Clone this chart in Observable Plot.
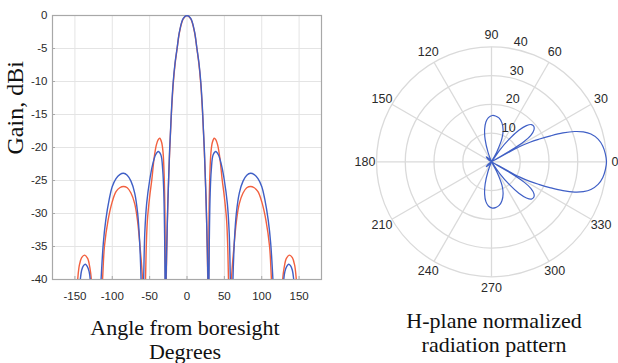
<!DOCTYPE html>
<html>
<head>
<meta charset="utf-8">
<script src="https://cdn.jsdelivr.net/npm/d3@7"></script>
<script src="https://cdn.jsdelivr.net/npm/@observablehq/plot@0.6"></script>
<style>
  html, body { margin: 0; padding: 0; background: #fff; }
  #page { position: relative; width: 618px; height: 363px; overflow: hidden; background: #fff; }
  #left { position: absolute; left: 0; top: 0; }
  #right { position: absolute; left: 340px; top: 0; }
  .cap { position: absolute; font-family: "Liberation Serif", "Times New Roman", serif; font-size: 22px; line-height: 24px; color: #111; text-align: center; white-space: nowrap; }
</style>
</head>
<body>
<div id="page">
  <div id="left"></div>
  <div id="right"></div>
  <div class="cap" id="capL" style="left:0px; width:370px; top:316px;"></div>
  <div class="cap" id="capR" style="left:394px; width:200px; top:309px;"></div>
</div>
<script>
// ---------- data ----------
const xTicks = [-150, -100, -50, 0, 50, 100, 150];
const yTicks = [-40, -35, -30, -25, -20, -15, -10, -5, 0];

// left chart: gain (dBi) vs angle from boresight (deg)
const blueAngle = [-180,-160,-148,-142.8,-141,-138.5,-136,-133.5,-131,-129.5,-127,-121,-115,-112,-108.7,-104,-100,-95,-90,-85,-80,-75,-70,-66,-63.5,-61.5,-60,-58,-56.5,-54,-50,-46,-42,-38.5,-35,-32.5,-31,-30,-29.4,-28.8,-28,-27,-26,-24.5,-23.3,-22,-20.5,-18.4,-16,-13.3,-10,-5,0,
  5,10,13.3,16,18.4,20.5,22,23.3,24.5,26,27,28,28.8,29.4,30,31,32.5,35,38.5,42,46,50,54,56.5,58,60,61.5,63.5,66,70,75,80,85,90,95,100,104,108.7,112,115,121,127,129.5,131,133.5,136,138.5,141,142.8,148,160,180];
const blueGain = [-62,-55,-48,-40,-38.6,-37.9,-37.7,-38,-38.8,-40,-47,-54,-40,-34.5,-31,-27.8,-25.9,-24.7,-24.1,-23.9,-24.2,-25.1,-26.9,-30,-34,-40,-50,-40,-33,-28.5,-25,-22.6,-21.1,-20.6,-21.1,-23.4,-27,-33,-40,-52,-40,-34.5,-30,-24.5,-20.5,-17.4,-13.7,-10,-7.2,-5,-2.4,-0.45,0,
  -0.45,-2.4,-5,-7.2,-10,-13.7,-17.4,-20.5,-24.5,-30,-34.5,-40,-52,-40,-33,-27,-23.4,-21.1,-20.6,-21.1,-22.6,-25,-28.5,-33,-40,-50,-40,-34,-30,-26.9,-25.1,-24.2,-23.9,-24.1,-24.7,-25.9,-27.8,-31,-34.5,-40,-54,-47,-40,-38.8,-38,-37.7,-37.9,-38.6,-40,-48,-55,-62];

const redAngle = [-180,-160,-150,-146.3,-144,-141,-137,-133,-130,-128,-125,-119,-113,-110.5,-105.6,-100,-95,-90,-85,-80,-75,-70,-66.3,-62.5,-59.5,-57.5,-55.5,-54.5,-53,-50,-47,-44,-41,-38.5,-36.5,-34,-32,-30.5,-29.5,-29,-28.5,-27.8,-26.8,-25.6,-24.2,-22.9,-21.6,-20.2,-18.3,-16,-13.2,-10,-5,0,
  5,10,13.2,16,18.3,20.2,21.6,22.9,24.2,25.6,26.8,27.8,28.5,29,29.5,30.5,32,34,36.5,38.5,41,44,47,50,53,54.5,55.5,57.5,59.5,62.5,66.3,70,75,80,85,90,95,100,105.6,110.5,113,119,125,128,130,133,137,141,144,146.3,150,160,180];
const redGain = [-60,-52,-46,-40,-37.8,-36.7,-36.3,-36.8,-38.2,-40,-47,-53,-40,-35,-31,-28.2,-26.7,-26.1,-25.9,-26.1,-26.9,-28.5,-31,-35.5,-40,-50,-40,-35,-31,-27.5,-24.8,-21.6,-19.6,-18.8,-18.6,-19.2,-20.8,-24.5,-30,-40,-52,-40,-34,-28,-23.5,-19.8,-16.6,-13.5,-10.2,-7.4,-5,-2.5,-0.5,0,
  -0.5,-2.5,-5,-7.4,-10.2,-13.5,-16.6,-19.8,-23.5,-28,-34,-40,-52,-40,-30,-24.5,-20.8,-19.2,-18.6,-18.8,-19.6,-21.6,-24.8,-27.5,-31,-35,-40,-50,-40,-35.5,-31,-28.5,-26.9,-26.1,-25.9,-26.1,-26.7,-28.2,-31,-35,-40,-53,-47,-40,-38.2,-36.8,-36.3,-36.7,-37.8,-40,-46,-52,-60];

// right chart: normalized H-plane pattern (radius 0..40) vs angle (deg)
const polarAngle = [-180,-146,-143,-137,-131,-128,-120,-114,-110,-106,-102,-98,-94,-89,-85,-80,-75,-70,-66,-62,-58,-55,-52,-49,-46,-43,-40,-37,-34,-32,-30.5,-29.3,-28.4,-27,-25.5,-23.7,-22,-20,-18,-15.6,-12,-8,-4,0,
  4,8,12,15.6,18,20,22,23.7,25.5,27,28.4,29.3,30.5,32,34,37,40,43,46,49,52,55,58,62,66,70,75,80,85,89,94,98,102,106,110,114,120,128,131,137,143,146,180];
const polarR = [0,0,1.5,2.5,1.5,0,0,0,3.5,8,11.5,14,15.4,16.1,16,15.4,14,11.8,9,4,0,5,10,14.5,17.5,19,19.2,18.5,16.5,13.5,8,0,11,15,18.2,22.5,26.8,30.8,33.6,35.9,37.9,39.1,39.7,40,
  39.7,39.1,37.9,35.9,33.6,30.8,26.8,22.5,18.2,15,11,0,8,13.5,16.5,18.5,19.2,19,17.5,14.5,10,5,0,4,9,11.8,14,15.4,16,16.1,15.4,14,11.5,8,3.5,0,0,0,1.5,2.5,1.5,0,0];

const polarRings = [10, 20, 30, 40];
const polarSpokes = [0, 30, 60, 90, 120, 150];
const polarAngleLabels = [0, 30, 60, 90, 120, 150, 180, 210, 240, 270, 300, 330];

const yLabel = "Gain, dBi";
const captionLeft = ["Angle from boresight", "Degrees"];
const captionRight = ["H-plane normalized", "radiation pattern"];

// ---------- colours ----------
const BLUE = "#3f5fc6";
const RED = "#f2603f";
const GRID = "#e4e4e4";
const FRAME = "#a8a8a8";
const TXT = "#2a2a2a";

// ---------- left chart ----------
const blue = blueAngle.map((a, i) => ({angle: a, gain: blueGain[i]}));
const red = redAngle.map((a, i) => ({angle: a, gain: redGain[i]}));

const left = Plot.plot({
  width: 330, height: 300,
  marginLeft: 52, marginRight: 9, marginTop: 15, marginBottom: 21,
  style: {fontFamily: "'Liberation Sans', Arial, sans-serif", fontSize: "11.5px", color: TXT, background: "transparent", overflow: "visible"},
  x: {domain: [-180, 180], ticks: xTicks, tickFormat: d => String(d), tickSize: 0, tickPadding: 12, label: null},
  y: {domain: [-40, 0], ticks: yTicks, tickFormat: d => String(d), tickSize: 0, tickPadding: 5, label: null},
  marks: [
    Plot.ruleX(xTicks, {stroke: GRID, strokeWidth: 1}),
    Plot.ruleY(yTicks, {stroke: GRID, strokeWidth: 1}),
    Plot.tickX(xTicks, {x: d => d, insetTop: 261, stroke: FRAME}),
    Plot.tickY(yTicks, {y: d => d, insetRight: 266, stroke: FRAME}),
    Plot.frame({stroke: FRAME, strokeWidth: 1.2}),
    Plot.line(red, {x: "angle", y: "gain", stroke: RED, strokeWidth: 1.4, curve: "catmull-rom", clip: true}),
    Plot.line(blue, {x: "angle", y: "gain", stroke: BLUE, strokeWidth: 1.4, curve: "catmull-rom", clip: true}),
    Plot.text([yLabel], {text: d => d, frameAnchor: "left", rotate: -90, dx: -37, dy: 7, fontSize: 24, fontFamily: "'Liberation Serif', 'Times New Roman', serif", fill: "#111"})
  ]
});
document.getElementById("left").appendChild(left);

// ---------- right (polar) chart ----------
const rad = d => d * Math.PI / 180;
const rMax = polarRings[polarRings.length - 1];
const polar = polarAngle.map((a, i) => ({x: polarR[i] * Math.cos(rad(a)), y: polarR[i] * Math.sin(rad(a))}));

const right = Plot.plot({
  width: 278, height: 300,
  marginLeft: 36, marginRight: 12, marginTop: 46.3, marginBottom: 23.7,
  style: {fontFamily: "'Liberation Sans', Arial, sans-serif", fontSize: "12px", color: TXT, background: "transparent"},
  x: {domain: [-rMax, rMax], axis: null},
  y: {domain: [-rMax, rMax], axis: null},
  r: {type: "linear", domain: [0, rMax], range: [0, 115]},
  marks: [
    Plot.link(polarSpokes, {
      x1: a => rMax * Math.cos(rad(a)), y1: a => rMax * Math.sin(rad(a)),
      x2: a => -rMax * Math.cos(rad(a)), y2: a => -rMax * Math.sin(rad(a)),
      stroke: "#dadada", strokeWidth: 1.3
    }),
    Plot.dot(polarRings, {x: () => 0, y: () => 0, r: d => d, stroke: "#dadada", strokeWidth: 1.3, fill: "none"}),
    Plot.line(polar, {x: "x", y: "y", stroke: BLUE, strokeWidth: 1.2, curve: "catmull-rom"}),
    Plot.text(polarAngleLabels.filter(a => a !== 0), {
      x: a => 1.1 * rMax * Math.cos(rad(a)), y: a => 1.1 * rMax * Math.sin(rad(a)),
      text: a => String(a), fontSize: 12.5, fill: TXT
    }),
    Plot.text(polarAngleLabels.filter(a => a === 0), {
      x: a => 1.1 * rMax * Math.cos(rad(a)), y: a => 1.1 * rMax * Math.sin(rad(a)),
      text: a => String(a), fontSize: 12.5, fill: TXT, dx: -3
    }),
    Plot.text(polarRings, {
      x: v => (v + 0.5) * Math.cos(rad(82)), y: v => (v + 0.5) * Math.sin(rad(82)),
      text: v => String(v), textAnchor: "start", lineAnchor: "bottom", dx: 6, fontSize: 12.5, fill: TXT
    })
  ]
});
document.getElementById("right").appendChild(right);

// ---------- captions ----------
document.getElementById("capL").innerHTML = captionLeft.join("<br>");
document.getElementById("capR").innerHTML = captionRight.join("<br>");
</script>
</body>
</html>
